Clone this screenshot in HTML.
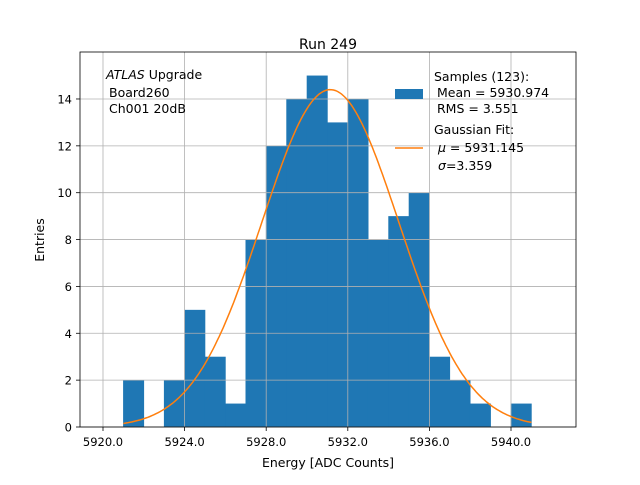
<!DOCTYPE html>
<html><head><meta charset="utf-8"><style>
body{margin:0;background:#fff}
svg text{font-family:"DejaVu Sans","Liberation Sans",sans-serif;fill:#000}
</style></head><body>
<svg id="chart" width="640" height="480" xmlns="http://www.w3.org/2000/svg">
<rect width="640" height="480" fill="#fff"/>
<g id="bars"></g>
<g id="grid"></g>
<g id="fit"></g>
<rect x="80" y="52" width="496" height="375" fill="none" stroke="#000" stroke-width="0.8"/>
<g id="axes"></g>
<text x="328" y="49" font-size="14" text-anchor="middle">Run 249</text>
<text x="328" y="467" font-size="12.5" text-anchor="middle">Energy [ADC Counts]</text>
<text x="44" y="240" font-size="12.5" text-anchor="middle" transform="rotate(-90 44 240)">Entries</text>
<g font-size="12.5">
<text x="106" y="79"><tspan font-style="italic">ATLAS</tspan> Upgrade</text>
<text x="109" y="97">Board260</text>
<text x="109" y="113">Ch001 20dB</text>
</g>
<g font-size="12.5">
<rect x="395" y="89" width="28" height="10" fill="#1f77b4"/>
<text x="434" y="81">Samples (123):</text>
<text x="437" y="97">Mean = 5930.974</text>
<text x="437" y="113">RMS = 3.551</text>
<line x1="395" y1="148" x2="423" y2="148" stroke="#ff7f0e" stroke-width="1.5"/>
<text x="434" y="134">Gaussian Fit:</text>
<text x="438" y="152"><tspan font-style="italic">μ</tspan> = 5931.145</text>
<text x="438" y="170"><tspan font-style="italic">σ</tspan>=3.359</text>
</g>
</svg>
<script>
const binStarts=[5921,5922,5923,5924,5925,5926,5927,5928,5929,5930,5931,5932,5933,5934,5935,5936,5937,5938,5939,5940];
const counts=[2,0,2,5,3,1,8,12,14,15,13,14,8,9,10,3,2,1,0,1];
const xTicks=[5920,5924,5928,5932,5936,5940];
const yTicks=[0,2,4,6,8,10,12,14];
const fitMu=[5931.145];
const fitSigma=[3.359];
const fitAmp=[14.4];
const NS="http://www.w3.org/2000/svg";
const X=v=>103+(v-5920)*20.4;
const Y=v=>427-v*23.43;
function mk(tag,attrs,parent){const e=document.createElementNS(NS,tag);for(const k in attrs)e.setAttribute(k,attrs[k]);document.getElementById(parent).appendChild(e);return e;}
xTicks.forEach(t=>{
 const g=mk('line',{x1:X(t),x2:X(t),y1:52,y2:427,stroke:'#b0b0b0','stroke-width':0.8},'grid');
 
 
 const tk=mk('line',{x1:X(t),x2:X(t),y1:427,y2:431,stroke:'#000','stroke-width':0.8},'axes');
 
 
 const l=mk('text',{x:X(t),y:446,'font-size':11.5,'text-anchor':'middle'},'axes');
 l.textContent=t.toFixed(1);
 
 
});
yTicks.forEach(t=>{
 const g=mk('line',{x1:80,x2:576,y1:Y(t),y2:Y(t),stroke:'#b0b0b0','stroke-width':0.8},'grid');
 
 
 const tk=mk('line',{x1:76,x2:80,y1:Y(t),y2:Y(t),stroke:'#000','stroke-width':0.8},'axes');
 
 
 const l=mk('text',{x:72,y:Y(t)+4.5,'font-size':11.5,'text-anchor':'end'},'axes');
 l.textContent=t;
 
 
});
binStarts.forEach((b,i)=>{
 if(!counts[i])return;
 const r=mk('rect',{x:X(b)-0.3,y:Y(counts[i]),width:X(b+1)-X(b)+0.6,height:Y(0)-Y(counts[i]),fill:'#1f77b4'},'bars');
 
 
});
let d='';
const x0=binStarts[0],x1=binStarts[binStarts.length-1]+1;
for(let i=0;i<=200;i++){const v=x0+(x1-x0)*i/200;const f=fitAmp[0]*Math.exp(-Math.pow(v-fitMu[0],2)/(2*fitSigma[0]*fitSigma[0]));d+=(i?'L':'M')+X(v).toFixed(1)+','+Y(f).toFixed(1);}
const p=mk('path',{d:d,fill:'none',stroke:'#ff7f0e','stroke-width':1.5},'fit');


</script>
</body></html>
